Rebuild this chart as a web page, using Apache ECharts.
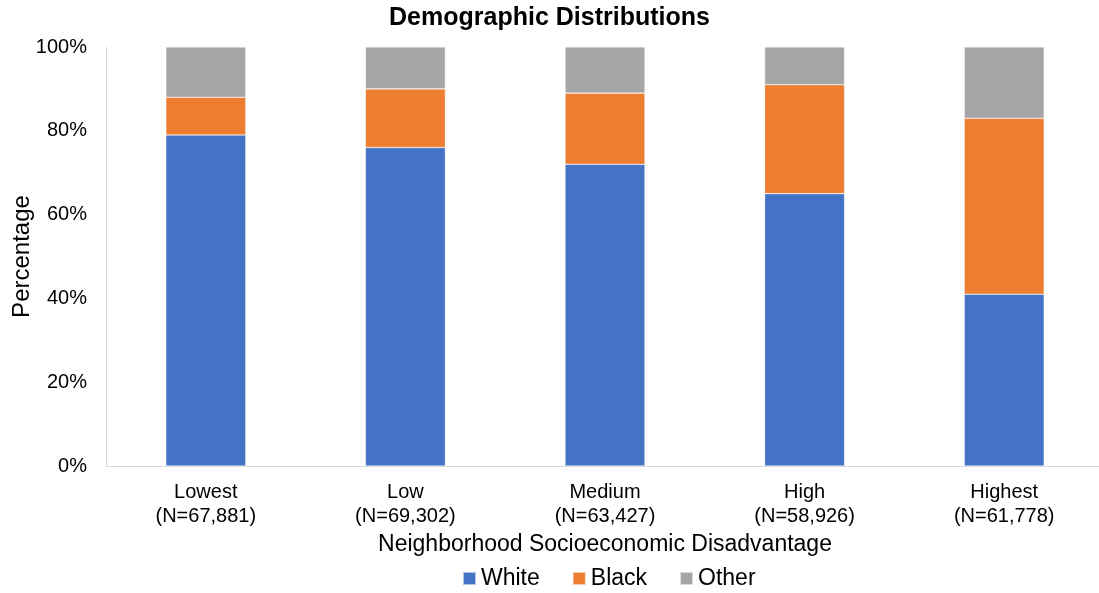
<!DOCTYPE html>
<html>
<head>
<meta charset="utf-8">
<script src="https://cdn.jsdelivr.net/npm/echarts@6/dist/echarts.min.js"></script>
<style>
  html, body { margin: 0; padding: 0; background: #ffffff; }
  #chart { width: 1099px; height: 593px; }
</style>
</head>
<body>
<div id="chart"></div>
<script>
// Neighborhood disadvantage groups and their sample sizes
const categories = ['Lowest', 'Low', 'Medium', 'High', 'Highest'];
const sampleSizes = ['67,881', '69,302', '63,427', '58,926', '61,778'];

// Share of each group (percent)
const white = [79, 76, 72, 65, 41];
const black = [9, 14, 17, 26, 42];
const other = [12, 10, 11, 9, 17];

const yTicks = [0, 20, 40, 60, 80, 100];

const FONT = '"Liberation Sans", Arial, sans-serif';
const colors = { White: '#4472C4', Black: '#ED7D31', Other: '#A5A5A5' };

const labels = categories.map((c, i) => c + '\n(N=' + sampleSizes[i] + ')');

function barSeries(name, data) {
  return {
    name: name,
    type: 'bar',
    stack: 'total',
    data: data,
    barWidth: 80,
    itemStyle: { color: colors[name], borderColor: 'rgba(255,255,255,0.6)', borderWidth: 0.6 },
    emphasis: { disabled: true }
  };
}

const chart = echarts.init(document.getElementById('chart'), null, { renderer: 'canvas' });
chart.setOption({
  animation: false,
  backgroundColor: '#ffffff',
  title: {
    text: 'Demographic Distributions',
    left: 'center',
    top: 1,
    textStyle: { fontFamily: FONT, fontSize: 25, fontWeight: 'bold', color: '#000000' }
  },
  // legend sits centred under the plot area rather than the page
  legend: {
    bottom: -2,
    left: 457,
    icon: 'rect',
    itemWidth: 13,
    itemHeight: 13,
    itemGap: 32,
    textStyle: { fontFamily: FONT, fontSize: 23, color: '#000000' },
    data: ['White', 'Black', 'Other']
  },
  grid: { left: 106, top: 47, width: 998, height: 419, outerBoundsMode: 'none', containLabel: false },
  xAxis: {
    type: 'category',
    data: labels,
    name: 'Neighborhood Socioeconomic Disadvantage',
    nameLocation: 'middle',
    nameGap: 67,
    nameMoveOverlap: false,
    nameTextStyle: { fontFamily: FONT, fontSize: 23, color: '#000000' },
    axisLine: { lineStyle: { color: '#D9D9D9', width: 1 } },
    axisTick: { show: false },
    axisLabel: { fontFamily: FONT, fontSize: 20, color: '#000000', lineHeight: 24, margin: 14, interval: 0 }
  },
  yAxis: {
    type: 'value',
    min: yTicks[0],
    max: yTicks[yTicks.length - 1],
    interval: yTicks[1] - yTicks[0],
    name: 'Percentage',
    nameLocation: 'middle',
    nameGap: 72,
    nameMoveOverlap: false,
    nameTextStyle: { fontFamily: FONT, fontSize: 24, color: '#000000' },
    axisLine: { show: true, lineStyle: { color: '#D9D9D9', width: 1 } },
    axisTick: { show: false },
    splitLine: { show: false },
    axisLabel: { fontFamily: FONT, fontSize: 20, color: '#000000', margin: 19, formatter: '{value}%' }
  },
  series: [
    barSeries('White', white),
    barSeries('Black', black),
    barSeries('Other', other)
  ]
});
</script>
</body>
</html>
